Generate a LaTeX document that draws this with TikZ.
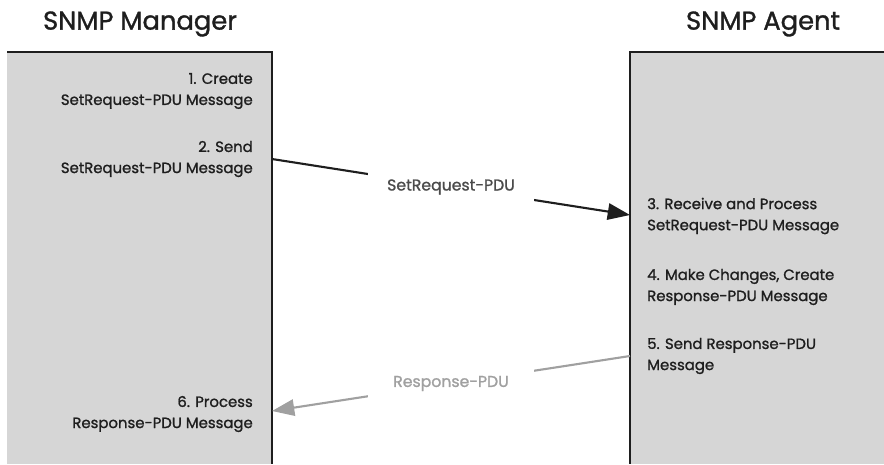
\documentclass[tikz,border=0pt]{standalone}
\usepackage{fontspec}
\setmainfont{Poppins}[FakeBold=1.2]
\usetikzlibrary{arrows.meta}

\definecolor{boxgray}{RGB}{214,214,214}
\definecolor{replygray}{RGB}{160,160,160}
\definecolor{inkgray}{RGB}{30,30,30}

\begin{document}
\begin{tikzpicture}[x=0.03cm,y=-0.03cm,
    title/.style={font=\fontsize{22}{26}\selectfont, text=inkgray},
    mgrtext/.style={font=\fontsize{12.7}{18}\selectfont, align=right, anchor=east, inner sep=0pt, text=inkgray},
    agttext/.style={font=\fontsize{12.7}{18}\selectfont, align=left, anchor=west, inner sep=0pt, text=inkgray},
    msglabel/.style={font=\fontsize{13.4}{16}\selectfont, fill=white, minimum width=4.98cm, minimum height=1cm, inner sep=0pt},
    reqline/.style={line width=1.8pt, draw=inkgray, -{Triangle[length=19pt,width=14pt]}},
    repline/.style={line width=1.8pt, draw=replygray, -{Triangle[length=19pt,width=14pt]}}]
    \useasboundingbox (0,0) rectangle (884,464);

    % Draw the two boxes
    \fill[boxgray] (7,52) rectangle (272,464);
    \fill[boxgray] (630,52) rectangle (884,464);
    \draw[line width=2.5pt, inkgray] (7,52) -- (272,52) -- (272,464);
    \draw[line width=2.5pt, inkgray] (884,52) -- (630,52) -- (630,464);

    % Titles
    \node[title] (manager) at (140,24) {SNMP Manager};
    \node[title] (agent) at (763,24) {SNMP Agent};

    % Manager steps
    \node[mgrtext] (create) at (253,91) {1. Create\\SetRequest-PDU Message};
    \node[mgrtext] (send) at (253,159) {2. Send\\SetRequest-PDU Message};
    \node[mgrtext] (process) at (253,414) {6. Process\\Response-PDU Message};

    % Agent steps
    \node[agttext] (receive) at (647,216) {3. Receive and Process\\SetRequest-PDU Message};
    \node[agttext] (change) at (647,287) {4. Make Changes, Create\\Response-PDU Message};
    \node[agttext] (reply) at (647,356) {5. Send Response-PDU\\Message};

    % Messages
    \coordinate (reqfrom) at (272,159);
    \coordinate (reqto) at (630,215);
    \coordinate (repfrom) at (630,356);
    \coordinate (repto) at (272,411);
    \draw[reqline] (reqfrom) -- node[msglabel, text=inkgray!80] (req) {SetRequest-PDU} (reqto);
    \draw[repline] (repfrom) -- node[msglabel, text=replygray] (rep) {Response-PDU} (repto);

\end{tikzpicture}
\end{document}
